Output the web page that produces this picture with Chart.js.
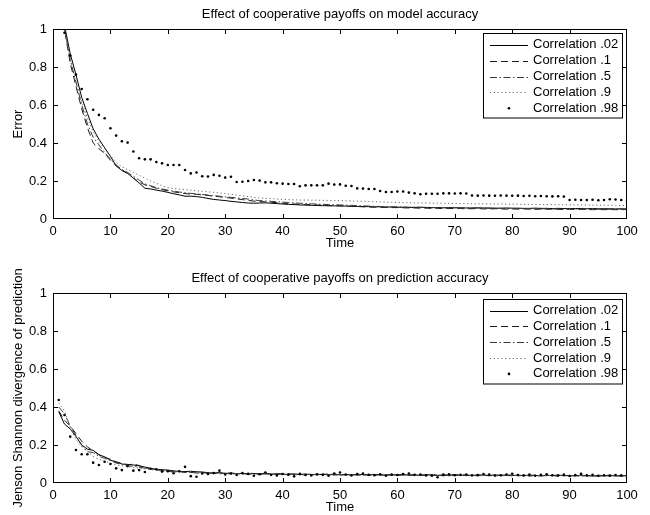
<!DOCTYPE html>
<html><head><meta charset="utf-8">
<script src="https://cdn.jsdelivr.net/npm/chart.js@4/dist/chart.umd.min.js"></script>
<style>
body{margin:0;background:#fff;width:650px;height:515px;overflow:hidden;position:relative}
canvas{position:absolute;left:0}
#c1{top:0}
#c2{top:258px}
</style></head><body>
<canvas id="c1" width="650" height="257"></canvas>
<canvas id="c2" width="650" height="257"></canvas>
<script>
const TIME = [1,2,3,4,5,6,7,8,9,10,11,12,13,14,15,16,17,18,19,20,21,22,23,24,25,26,27,28,29,30,31,32,33,34,35,36,37,38,39,40,41,42,43,44,45,46,47,48,49,50,51,52,53,54,55,56,57,58,59,60,61,62,63,64,65,66,67,68,69,70,71,72,73,74,75,76,77,78,79,80,81,82,83,84,85,86,87,88,89,90,91,92,93,94,95,96,97,98,99,100];
const SERIES_LABELS = ['Correlation .02','Correlation .1','Correlation .5','Correlation .9','Correlation .98'];
const TITLE_TOP = 'Effect of cooperative payoffs on model accuracy';
const TITLE_BOTTOM = 'Effect of cooperative payoffs on prediction accuracy';
const Y_LABEL_TOP = 'Error';
const Y_LABEL_BOTTOM = 'Jenson Shannon divergence of prediction';
const X_LABEL = 'Time';

// Top panel: Error
const err02 = [1.15,1.02,0.87,0.76,0.64,0.555,0.475,0.42,0.375,0.33,
0.28,0.255,0.24,0.215,0.19,0.162,0.158,0.152,0.147,0.14,
0.133,0.127,0.12,0.12,0.118,0.114,0.108,0.103,0.1,0.097,
0.093,0.09,0.087,0.084,0.083,0.084,0.085,0.083,0.081,0.079,
0.077,0.076,0.074,0.073,0.072,0.071,0.07,0.07,0.069,0.069,
0.068,0.067,0.066,0.066,0.065,0.064,0.064,0.063,0.063,0.062,
0.062,0.061,0.061,0.062,0.061,0.06,0.06,0.059,0.06,0.059,
0.059,0.058,0.058,0.059,0.058,0.058,0.057,0.057,0.058,0.057,
0.057,0.056,0.056,0.057,0.056,0.056,0.055,0.056,0.055,0.055,
0.055,0.055,0.054,0.055,0.054,0.054,0.054,0.053,0.054,0.053];
const err1 = [1.15,1.0,0.82,0.7,0.58,0.48,0.4,0.37,0.345,0.31,
0.28,0.26,0.24,0.215,0.195,0.18,0.172,0.162,0.155,0.148,
0.143,0.138,0.134,0.131,0.13,0.127,0.124,0.12,0.117,0.113,
0.11,0.106,0.102,0.098,0.094,0.092,0.09,0.088,0.086,0.083,
0.08,0.079,0.077,0.076,0.075,0.074,0.072,0.07,0.07,0.069,
0.068,0.066,0.066,0.064,0.063,0.062,0.062,0.061,0.06,0.06,
0.059,0.058,0.058,0.057,0.057,0.056,0.056,0.055,0.055,0.056,
0.055,0.054,0.054,0.055,0.053,0.053,0.054,0.053,0.052,0.053,
0.052,0.053,0.052,0.051,0.052,0.051,0.052,0.051,0.05,0.051,
0.05,0.051,0.05,0.049,0.05,0.049,0.05,0.049,0.049,0.05];
const err5 = [1.15,1.0,0.84,0.72,0.6,0.5,0.43,0.39,0.35,0.315,
0.285,0.26,0.245,0.225,0.205,0.185,0.175,0.165,0.158,0.152,
0.147,0.142,0.138,0.135,0.132,0.129,0.126,0.123,0.12,0.117,
0.114,0.111,0.108,0.105,0.1,0.097,0.095,0.093,0.091,0.089,
0.087,0.085,0.083,0.082,0.08,0.079,0.077,0.076,0.075,0.074,
0.073,0.072,0.07,0.069,0.068,0.067,0.066,0.065,0.064,0.064,
0.063,0.062,0.062,0.061,0.061,0.06,0.06,0.059,0.059,0.059,
0.058,0.058,0.057,0.057,0.057,0.056,0.056,0.056,0.055,0.055,
0.055,0.055,0.054,0.054,0.054,0.054,0.053,0.053,0.053,0.053,
0.052,0.052,0.052,0.052,0.051,0.051,0.051,0.051,0.05,0.05];
const err9 = [1.15,1.0,0.84,0.74,0.62,0.53,0.46,0.41,0.37,0.335,
0.3,0.275,0.26,0.245,0.23,0.215,0.2,0.188,0.175,0.165,
0.16,0.157,0.155,0.152,0.149,0.146,0.143,0.14,0.137,0.134,
0.13,0.126,0.122,0.118,0.114,0.111,0.109,0.107,0.105,0.103,
0.102,0.101,0.1,0.1,0.099,0.099,0.098,0.098,0.097,0.097,
0.096,0.095,0.094,0.093,0.092,0.091,0.09,0.089,0.088,0.087,
0.086,0.086,0.085,0.085,0.084,0.084,0.083,0.083,0.082,0.082,
0.081,0.081,0.08,0.08,0.08,0.079,0.079,0.079,0.078,0.078,
0.078,0.077,0.077,0.077,0.076,0.076,0.076,0.075,0.075,0.075,
0.074,0.074,0.074,0.073,0.073,0.073,0.072,0.072,0.071,0.071];
const err98 = [1.15,0.98,0.86,0.76,0.684,0.63,0.575,0.548,0.53,0.478,
0.439,0.409,0.402,0.355,0.32,0.314,0.314,0.3,0.293,0.284,
0.284,0.284,0.258,0.24,0.245,0.225,0.224,0.232,0.228,0.218,
0.222,0.195,0.196,0.2,0.205,0.202,0.193,0.193,0.188,0.186,
0.184,0.184,0.172,0.177,0.177,0.177,0.177,0.186,0.181,0.182,
0.175,0.174,0.161,0.16,0.158,0.158,0.147,0.142,0.142,0.145,
0.145,0.139,0.135,0.13,0.133,0.133,0.133,0.135,0.135,0.134,
0.135,0.134,0.124,0.123,0.124,0.123,0.122,0.124,0.123,0.122,
0.123,0.121,0.122,0.12,0.121,0.12,0.119,0.12,0.118,0.1,
0.101,0.1,0.1,0.101,0.099,0.1,0.104,0.103,0.1,0.095];

// Bottom panel: Jenson Shannon divergence
const js02 = [0.375,0.31,0.285,0.245,0.2,0.178,0.172,0.148,0.138,0.12,
0.112,0.1,0.098,0.095,0.09,0.084,0.077,0.072,0.07,0.068,
0.064,0.061,0.06,0.062,0.059,0.058,0.054,0.052,0.055,0.05,
0.053,0.049,0.051,0.047,0.05,0.048,0.052,0.046,0.049,0.047,
0.045,0.048,0.044,0.047,0.045,0.043,0.046,0.044,0.047,0.043,
0.045,0.042,0.046,0.044,0.042,0.045,0.043,0.041,0.044,0.042,
0.045,0.041,0.043,0.04,0.044,0.042,0.039,0.043,0.041,0.044,
0.04,0.042,0.039,0.043,0.041,0.038,0.042,0.04,0.043,0.039,
0.041,0.038,0.042,0.04,0.037,0.041,0.039,0.042,0.038,0.04,
0.037,0.041,0.039,0.036,0.04,0.038,0.041,0.037,0.039,0.038];
const js1 = [0.38,0.33,0.3,0.26,0.22,0.19,0.168,0.15,0.135,0.125,
0.11,0.103,0.095,0.1,0.092,0.08,0.075,0.071,0.066,0.063,
0.06,0.062,0.057,0.055,0.058,0.053,0.056,0.05,0.053,0.049,
0.052,0.048,0.05,0.047,0.051,0.046,0.049,0.045,0.048,0.046,
0.049,0.044,0.047,0.045,0.043,0.046,0.044,0.048,0.042,0.045,
0.043,0.046,0.041,0.044,0.043,0.04,0.045,0.042,0.044,0.04,
0.043,0.04,0.044,0.042,0.039,0.043,0.041,0.038,0.042,0.04,
0.043,0.039,0.041,0.038,0.042,0.04,0.037,0.041,0.039,0.042,
0.038,0.04,0.037,0.041,0.039,0.038,0.04,0.036,0.04,0.038,
0.04,0.037,0.039,0.038,0.036,0.04,0.037,0.039,0.036,0.038];
const js5 = [0.4,0.365,0.3,0.25,0.2,0.165,0.16,0.14,0.13,0.118,
0.105,0.098,0.09,0.088,0.083,0.078,0.075,0.07,0.065,0.064,
0.058,0.06,0.055,0.058,0.052,0.055,0.05,0.054,0.049,0.052,
0.047,0.05,0.046,0.049,0.052,0.045,0.048,0.044,0.047,0.045,
0.043,0.047,0.045,0.042,0.046,0.044,0.048,0.043,0.045,0.041,
0.044,0.042,0.045,0.041,0.043,0.046,0.041,0.043,0.04,0.044,
0.041,0.043,0.039,0.042,0.04,0.044,0.04,0.042,0.038,0.041,
0.039,0.042,0.04,0.038,0.041,0.039,0.043,0.038,0.04,0.037,
0.041,0.039,0.037,0.04,0.038,0.041,0.037,0.039,0.041,0.037,
0.039,0.036,0.04,0.038,0.039,0.036,0.038,0.04,0.037,0.039];
const js9 = [0.42,0.38,0.29,0.23,0.19,0.165,0.14,0.125,0.115,0.105,
0.095,0.09,0.087,0.082,0.078,0.075,0.07,0.068,0.062,0.06,
0.057,0.059,0.054,0.056,0.051,0.054,0.049,0.052,0.048,0.05,
0.047,0.051,0.046,0.048,0.045,0.049,0.046,0.044,0.047,0.043,
0.046,0.044,0.042,0.045,0.043,0.047,0.042,0.044,0.041,0.045,
0.042,0.044,0.04,0.043,0.045,0.041,0.042,0.04,0.043,0.041,
0.04,0.043,0.041,0.039,0.042,0.04,0.043,0.039,0.041,0.04,
0.042,0.038,0.041,0.04,0.038,0.042,0.039,0.041,0.038,0.04,
0.039,0.041,0.038,0.04,0.037,0.04,0.038,0.041,0.037,0.039,
0.038,0.04,0.037,0.039,0.038,0.036,0.039,0.037,0.04,0.038];
const js98 = [0.437,0.358,0.244,0.174,0.151,0.151,0.107,0.095,0.112,0.1,
0.077,0.068,0.089,0.065,0.068,0.058,0.075,0.072,0.06,0.062,
0.051,0.062,0.085,0.036,0.033,0.05,0.048,0.052,0.065,0.045,
0.05,0.042,0.052,0.048,0.038,0.046,0.055,0.043,0.04,0.047,
0.044,0.035,0.048,0.042,0.04,0.046,0.043,0.038,0.05,0.055,
0.045,0.04,0.047,0.05,0.043,0.041,0.046,0.038,0.044,0.042,
0.047,0.05,0.043,0.045,0.04,0.038,0.03,0.044,0.046,0.041,
0.043,0.045,0.04,0.042,0.047,0.044,0.039,0.041,0.045,0.049,
0.042,0.04,0.044,0.038,0.043,0.046,0.041,0.039,0.044,0.037,
0.042,0.048,0.04,0.043,0.038,0.041,0.039,0.042,0.04,0.041];

const FONT = "'Liberation Sans', Arial, Helvetica, sans-serif";

const STYLES = [
  {borderColor:'#000', borderDash:[], showLine:true},
  {borderColor:'#1a1a1a', borderDash:[7,4], showLine:true},
  {borderColor:'#3a3a3a', borderDash:[7,2.5,1.5,2.5], showLine:true},
  {borderColor:'#666', borderDash:[1.2,2.6], showLine:true},
  {borderColor:'#000', borderDash:[], showLine:false}
];

function makeDatasets(seriesList){
  return seriesList.map((vals,i)=>({
    label: SERIES_LABELS[i],
    data: TIME.map((t,k)=>({x:t, y:vals[k]})),
    borderColor: STYLES[i].borderColor,
    backgroundColor: STYLES[i].borderColor,
    borderDash: STYLES[i].borderDash,
    borderWidth: 1,
    showLine: STYLES[i].showLine,
    pointRadius: STYLES[i].showLine ? 0 : 1.3,
    pointBorderWidth: 0,
    pointBackgroundColor: '#000',
    tension: 0,
    clip: 0,
    order: 5 - i
  }));
}

const framePlugin = {
  id: 'frame',
  afterDatasetsDraw(chart, args, opts){
    const {ctx, chartArea:a, scales:{x, y}} = chart;
    ctx.save();
    ctx.strokeStyle = '#000';
    ctx.lineWidth = 1;
    ctx.strokeRect(a.left + 0.5, a.top + 0.5, a.right - a.left - 1, a.bottom - a.top - 1);
    const tl = 5;
    ctx.beginPath();
    x.ticks.forEach(t => {
      if (t.value <= x.min || t.value >= x.max) return;
      const px = Math.round(x.getPixelForValue(t.value)) + 0.5;
      ctx.moveTo(px, a.bottom); ctx.lineTo(px, a.bottom - tl);
      ctx.moveTo(px, a.top); ctx.lineTo(px, a.top + tl);
    });
    y.ticks.forEach(t => {
      if (t.value <= y.min || t.value >= y.max) return;
      const py = Math.round(y.getPixelForValue(t.value)) + 0.5;
      ctx.moveTo(a.left, py); ctx.lineTo(a.left + tl, py);
      ctx.moveTo(a.right, py); ctx.lineTo(a.right - tl, py);
    });
    ctx.stroke();
    ctx.restore();
  },
  afterDraw(chart, args, opts){
    const {ctx, chartArea:a} = chart;
    ctx.save();
    ctx.fillStyle = '#000';
    ctx.font = '13px ' + FONT;
    ctx.textAlign = 'center';
    ctx.textBaseline = 'middle';
    ctx.fillText(opts.title, (a.left + a.right) / 2, opts.titleY);
    // legend
    const bw = 139, bh = 84.5;
    const bx = a.right - 5.5 - bw;
    const by = a.top + opts.legendTop;
    ctx.fillStyle = '#fff';
    ctx.fillRect(bx, by, bw, bh);
    ctx.strokeStyle = '#000';
    ctx.lineWidth = 1;
    ctx.strokeRect(Math.round(bx) + 0.5, Math.round(by) + 0.5, bw, bh);
    chart.data.datasets.forEach((ds, i) => {
      const ry = by + 11.5 + i * 15.85;
      if (ds.showLine) {
        ctx.beginPath();
        ctx.setLineDash(ds.borderDash);
        ctx.strokeStyle = ds.borderColor;
        ctx.moveTo(bx + 7.5, Math.round(ry) + 0.5);
        ctx.lineTo(bx + 45.5, Math.round(ry) + 0.5);
        ctx.stroke();
        ctx.setLineDash([]);
      } else {
        ctx.beginPath();
        ctx.fillStyle = '#000';
        ctx.arc(bx + 26.5, ry, 1.3, 0, Math.PI * 2);
        ctx.fill();
      }
      ctx.fillStyle = '#000';
      ctx.textAlign = 'left';
      ctx.fillText(ds.label, bx + 50.5, ry);
    });
    ctx.restore();
  }
};

function fmtTick(v){ return String(Number(Number(v).toFixed(2))); }

function makeChart(id, seriesList, yLabel, title, titleY, legendTop, padTop, padBottom){
  return new Chart(document.getElementById(id), {
    type: 'line',
    data: { datasets: makeDatasets(seriesList) },
    options: {
      responsive: false,
      animation: false,
      events: [],
      layout: { padding: { top: padTop, bottom: padBottom, left: 0, right: 23 } },
      plugins: {
        legend: { display: false },
        tooltip: { enabled: false },
        frame: { title: title, titleY: titleY, legendTop: legendTop }
      },
      scales: {
        x: {
          type: 'linear', min: 0, max: 100,
          ticks: { stepSize: 10, color: '#000', font: { family: FONT, size: 13 }, padding: 5, maxRotation: 0, callback: fmtTick },
          grid: { display: false, drawTicks: false },
          border: { display: false },
          title: { display: true, text: X_LABEL, color: '#000', font: { family: FONT, size: 13 }, padding: { top: 0, bottom: 0 } },
          afterFit(s){ s.height = 32; }
        },
        y: {
          type: 'linear', min: 0, max: 1,
          ticks: { stepSize: 0.2, color: '#000', font: { family: FONT, size: 13 }, padding: 6, callback: fmtTick },
          grid: { display: false, drawTicks: false },
          border: { display: false },
          title: { display: true, text: yLabel, color: '#000', font: { family: FONT, size: 13 }, padding: { top: 10.5, bottom: 0 } },
          afterFit(s){ s.width = 53; }
        }
      }
    },
    plugins: [framePlugin]
  });
}

makeChart('c1', [err02, err1, err5, err9, err98], Y_LABEL_TOP, TITLE_TOP, 14, 4.3, 29, 6);
makeChart('c2', [js02, js1, js5, js9, js98], Y_LABEL_BOTTOM, TITLE_BOTTOM, 20.5, 6, 35, 0);
</script>
</body></html>
